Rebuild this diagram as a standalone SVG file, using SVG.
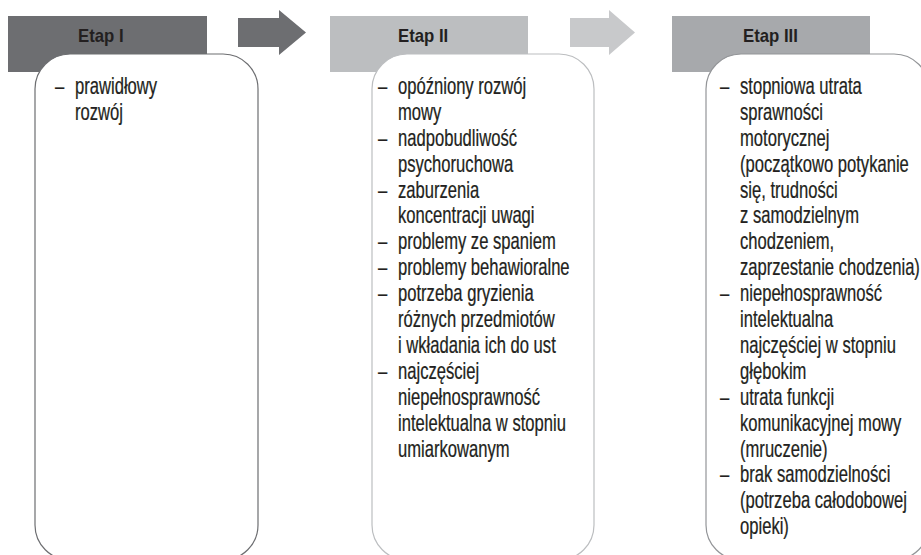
<svg xmlns="http://www.w3.org/2000/svg" width="921" height="555" viewBox="0 0 921 555">
<style>
.bg{fill:#ffffff}
.hd{font-family:"Liberation Sans",Arial,sans-serif;font-weight:bold;font-size:18px;fill:#231f20}
.tx{font-family:"Liberation Sans",Arial,sans-serif;font-size:23px;fill:#231f20;stroke:#231f20;stroke-width:0.25}
.box{fill:#ffffff;stroke-width:1.2}
</style>
<rect class="bg" x="0" y="0" width="921" height="555"/>
<g id="connectors">
<path id="arrow1" d="M238,18 H279 V10 L306,32.5 L279,55 V47 H238 Z" fill="#6d6e71"/>
<path id="arrow2" d="M570,18 H609 V10 L635,32.5 L609,55 V47 H570 Z" fill="#c8c9cb"/>
</g>
<g id="etap1">
<rect x="8" y="16" width="199" height="56" fill="#6d6e71"/>
<text class="hd" transform="translate(78,41.7) scale(0.93,1)" x="0" y="0">Etap I</text>
<rect class="box" x="35" y="54" width="223" height="506" rx="35" ry="35" stroke="#6d6e71"/>
<g transform="translate(75,0) scale(0.722,1)">
<text class="tx"><tspan x="-27.7" y="94">–</tspan><tspan x="0" y="94">prawidłowy</tspan><tspan x="0" y="119.9">rozwój</tspan></text>
</g>
</g>
<g id="etap2">
<rect x="330" y="16" width="198" height="56" fill="#bcbec0"/>
<text class="hd" transform="translate(398,41.7) scale(0.93,1)" x="0" y="0">Etap II</text>
<rect class="box" x="372" y="54" width="222" height="506" rx="35" ry="35" stroke="#bcbec0"/>
<g transform="translate(398,0) scale(0.722,1)">
<text class="tx">
<tspan x="-27.7" y="94">–</tspan><tspan x="0" y="94">opóźniony rozwój</tspan>
<tspan x="0" y="119.9">mowy</tspan>
<tspan x="-27.7" y="145.8">–</tspan><tspan x="0" y="145.8">nadpobudliwość</tspan>
<tspan x="0" y="171.7">psychoruchowa</tspan>
<tspan x="-27.7" y="197.6">–</tspan><tspan x="0" y="197.6">zaburzenia</tspan>
<tspan x="0" y="223.5">koncentracji uwagi</tspan>
<tspan x="-27.7" y="249.4">–</tspan><tspan x="0" y="249.4">problemy ze spaniem</tspan>
<tspan x="-27.7" y="275.3">–</tspan><tspan x="0" y="275.3">problemy behawioralne</tspan>
<tspan x="-27.7" y="301.2">–</tspan><tspan x="0" y="301.2">potrzeba gryzienia</tspan>
<tspan x="0" y="327.1">różnych przedmiotów</tspan>
<tspan x="0" y="353">i wkładania ich do ust</tspan>
<tspan x="-27.7" y="378.9">–</tspan><tspan x="0" y="378.9">najczęściej</tspan>
<tspan x="0" y="404.8">niepełnosprawność</tspan>
<tspan x="0" y="430.7">intelektualna w stopniu</tspan>
<tspan x="0" y="456.6">umiarkowanym</tspan>
</text>
</g>
</g>
<g id="etap3">
<rect x="672" y="16" width="198" height="56" fill="#a7a9ac"/>
<text class="hd" transform="translate(743,41.7) scale(0.93,1)" x="0" y="0">Etap III</text>
<rect class="box" x="706" y="54" width="223" height="506" rx="35" ry="35" stroke="#939598"/>
<g transform="translate(740,0) scale(0.722,1)">
<text class="tx">
<tspan x="-27.7" y="94">–</tspan><tspan x="0" y="94">stopniowa utrata</tspan>
<tspan x="0" y="119.9">sprawności</tspan>
<tspan x="0" y="145.8">motorycznej</tspan>
<tspan x="0" y="171.7">(początkowo potykanie</tspan>
<tspan x="0" y="197.6">się, trudności</tspan>
<tspan x="0" y="223.5">z samodzielnym</tspan>
<tspan x="0" y="249.4">chodzeniem,</tspan>
<tspan x="0" y="275.3">zaprzestanie chodzenia)</tspan>
<tspan x="-27.7" y="301.2">–</tspan><tspan x="0" y="301.2">niepełnosprawność</tspan>
<tspan x="0" y="327.1">intelektualna</tspan>
<tspan x="0" y="353">najczęściej w stopniu</tspan>
<tspan x="0" y="378.9">głębokim</tspan>
<tspan x="-27.7" y="404.8">–</tspan><tspan x="0" y="404.8">utrata funkcji</tspan>
<tspan x="0" y="430.7">komunikacyjnej mowy</tspan>
<tspan x="0" y="456.6">(mruczenie)</tspan>
<tspan x="-27.7" y="482.5">–</tspan><tspan x="0" y="482.5">brak samodzielności</tspan>
<tspan x="0" y="508.4">(potrzeba całodobowej</tspan>
<tspan x="0" y="534.3">opieki)</tspan>
</text>
</g>
</g>
</svg>
